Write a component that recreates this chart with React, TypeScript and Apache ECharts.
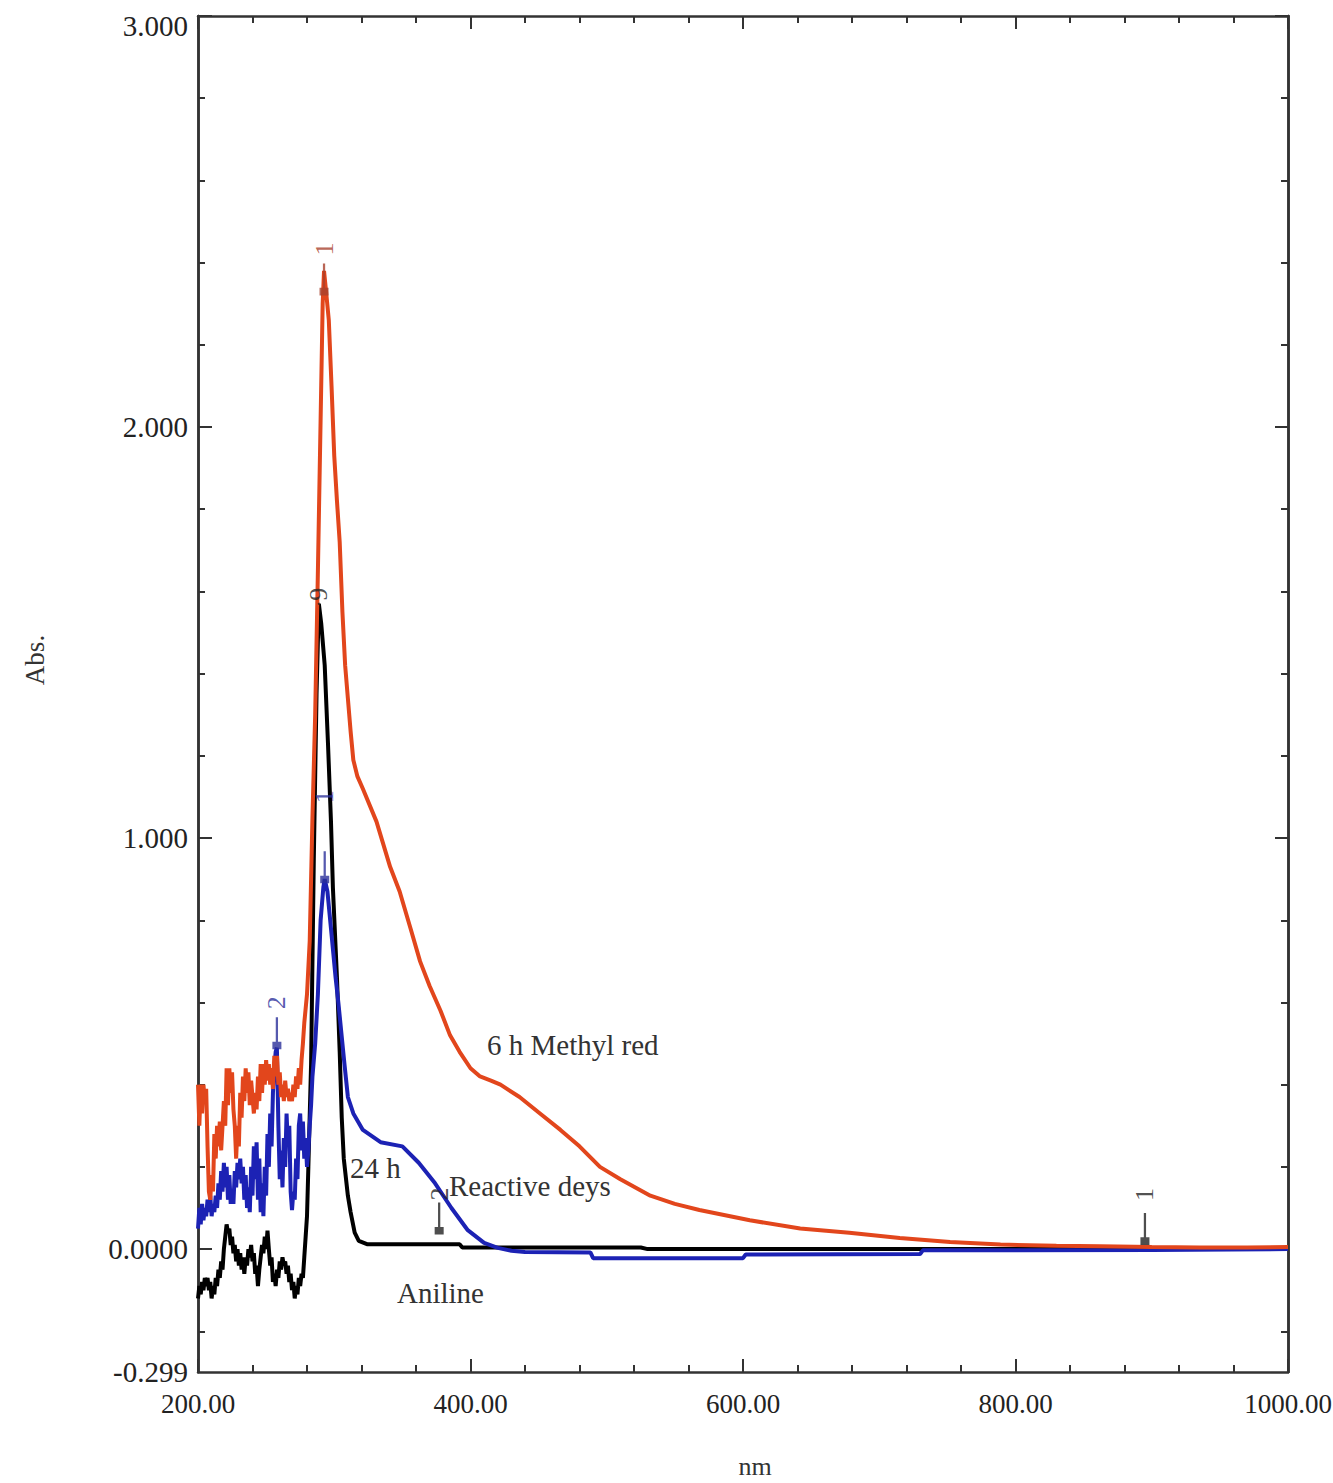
import React, { useEffect, useRef } from 'react';
import * as echarts from 'echarts';

// 6 h Methyl red (red curve): [wavelength nm, absorbance]
const methylRed: [number, number][] = [
  [200, 0.40], [201, 0.30], [202, 0.40], [203, 0.33], [204, 0.40], [205, 0.36], [206, 0.39],
  [207, 0.25], [208, 0.14], [209, 0.12], [210, 0.18], [211, 0.14], [212, 0.28], [213, 0.22],
  [214, 0.30], [215, 0.25], [216, 0.31], [217, 0.24], [218, 0.30], [219, 0.36], [220, 0.30],
  [221, 0.44], [222, 0.35], [223, 0.44], [224, 0.38], [225, 0.43], [226, 0.34], [227, 0.30],
  [228, 0.22], [229, 0.30], [230, 0.25], [231, 0.38], [232, 0.32], [233, 0.42], [234, 0.36],
  [235, 0.44], [236, 0.38], [237, 0.43], [238, 0.35], [239, 0.41], [240, 0.37], [241, 0.33],
  [242, 0.38], [243, 0.34], [244, 0.42], [245, 0.36], [246, 0.45], [247, 0.38], [248, 0.45],
  [249, 0.40], [250, 0.46], [251, 0.41], [252, 0.45], [253, 0.40], [254, 0.44], [255, 0.39],
  [256, 0.47], [257, 0.42], [258, 0.47], [259, 0.40], [260, 0.43], [261, 0.37], [262, 0.40],
  [263, 0.36], [264, 0.41], [265, 0.37], [266, 0.39], [267, 0.36], [268, 0.38], [269, 0.36],
  [270, 0.40], [271, 0.37], [272, 0.42], [273, 0.39], [274, 0.44], [275, 0.40], [276, 0.46],
  [277, 0.50], [278, 0.55], [280, 0.62], [282, 0.75], [284, 1.05], [286, 1.30], [288, 1.65],
  [290, 2.02], [291.5, 2.30], [292.5, 2.38], [294, 2.33], [296, 2.26], [298, 2.10], [300, 1.93],
  [302, 1.82], [304, 1.72], [306, 1.55], [308, 1.42], [310, 1.34], [312, 1.26], [314, 1.19],
  [317, 1.15], [321, 1.12], [331, 1.04], [341, 0.93], [348, 0.87], [356, 0.78], [363, 0.70],
  [370, 0.64], [378, 0.58], [385, 0.52], [392, 0.48], [400, 0.44], [407, 0.42], [415, 0.41],
  [422, 0.40], [436, 0.37], [451, 0.33], [466, 0.29], [480, 0.25], [495, 0.20], [510, 0.17],
  [532, 0.13], [550, 0.11], [568, 0.095], [605, 0.07], [642, 0.05], [678, 0.04], [715, 0.027],
  [752, 0.017], [789, 0.011], [830, 0.008], [862, 0.007], [900, 0.005], [935, 0.004],
  [970, 0.004], [1000, 0.005],
];

// 24 h Reactive deys (blue curve)
const reactiveDyes: [number, number][] = [
  [200, 0.05], [201, 0.10], [202, 0.06], [203, 0.11], [204, 0.07], [205, 0.10], [206, 0.08],
  [207, 0.12], [208, 0.09], [209, 0.13], [210, 0.08], [211, 0.11], [212, 0.09], [213, 0.13],
  [214, 0.10], [215, 0.16], [216, 0.12], [217, 0.19], [218, 0.14], [219, 0.21], [220, 0.15],
  [221, 0.20], [222, 0.12], [223, 0.18], [224, 0.11], [225, 0.14], [226, 0.11], [227, 0.19],
  [228, 0.15], [229, 0.21], [230, 0.17], [231, 0.22], [232, 0.16], [233, 0.20], [234, 0.12],
  [235, 0.18], [236, 0.10], [237, 0.15], [238, 0.09], [239, 0.20], [240, 0.13], [241, 0.25],
  [242, 0.17], [243, 0.26], [244, 0.12], [245, 0.22], [246, 0.09], [247, 0.16], [248, 0.08],
  [249, 0.20], [250, 0.13], [251, 0.28], [252, 0.20], [253, 0.33], [254, 0.25], [255, 0.38],
  [256, 0.44], [257, 0.48], [257.9, 0.49], [259, 0.30], [260, 0.17], [261, 0.24], [262, 0.15],
  [263, 0.27], [264, 0.20], [265, 0.33], [266, 0.25], [267, 0.30], [268, 0.14], [269, 0.095],
  [270, 0.14], [271, 0.12], [272, 0.22], [273, 0.17], [274, 0.30], [275, 0.33], [276, 0.24],
  [277, 0.31], [278, 0.22], [279, 0.27], [280, 0.20], [281, 0.24], [282, 0.30], [283, 0.35],
  [284, 0.42], [286, 0.50], [288, 0.62], [290, 0.80], [292, 0.88], [293, 0.90], [295, 0.87],
  [297.6, 0.78], [301, 0.66], [303, 0.60], [305.4, 0.52], [307.5, 0.45], [310, 0.37],
  [314, 0.33], [321, 0.29], [334, 0.26], [350, 0.25], [362, 0.21], [374, 0.16], [386, 0.10],
  [398, 0.046], [410, 0.015], [420, 0.003], [430, -0.004], [440, -0.007], [488, -0.008],
  [490, -0.022], [600, -0.022], [602, -0.013], [730, -0.012], [732, -0.003], [900, -0.002],
  [1000, 0.0],
];

// Aniline (black curve)
const aniline: [number, number][] = [
  [200, -0.12], [201, -0.09], [202, -0.11], [203, -0.08], [204, -0.10], [205, -0.07],
  [206, -0.09], [207, -0.07], [208, -0.10], [209, -0.08], [210, -0.12], [211, -0.09],
  [212, -0.11], [213, -0.07], [214, -0.09], [215, -0.05], [216, -0.07], [217, -0.03],
  [218, -0.05], [219, 0.0], [220, 0.03], [221, 0.06], [222, 0.04], [223, 0.05], [224, 0.01],
  [225, 0.03], [226, -0.01], [227, 0.01], [228, -0.03], [229, 0.0], [230, -0.04], [231, -0.01],
  [232, -0.05], [233, -0.02], [234, -0.06], [235, -0.02], [236, -0.04], [237, 0.0], [238, -0.02],
  [239, 0.01], [240, -0.03], [241, -0.01], [242, -0.06], [243, -0.04], [244, -0.09], [245, -0.05],
  [246, -0.02], [247, 0.01], [248, -0.01], [249, 0.03], [250, 0.0], [251, 0.045], [252, 0.0],
  [253, -0.04], [254, -0.02], [255, -0.08], [256, -0.06], [257, -0.09], [258, -0.05],
  [259, -0.07], [260, -0.03], [261, -0.05], [262, -0.02], [263, -0.04], [264, -0.03],
  [265, -0.06], [266, -0.04], [267, -0.08], [268, -0.06], [269, -0.10], [270, -0.08],
  [271, -0.12], [272, -0.09], [273, -0.11], [274, -0.07], [275, -0.09], [276, -0.06],
  [277, -0.07], [278, -0.02], [279, 0.03], [280, 0.08], [281, 0.20], [283, 0.45], [285, 0.95],
  [287, 1.35], [288.7, 1.57], [290.5, 1.52], [293, 1.42], [295.4, 1.23], [297.6, 1.04],
  [299, 0.88], [302, 0.66], [304, 0.48], [305.5, 0.32], [307, 0.22], [310, 0.13], [312, 0.09],
  [315, 0.04], [318, 0.02], [324, 0.012], [392, 0.012], [394, 0.004], [525, 0.004], [530, 0.0],
  [1000, 0.0],
];

// Peak-pick markers: label, wavelength, absorbance
const peakLabels = ['1', '2', '1', '9', '1', '2'];
const peakNm = [292.5, 257.9, 293, 288.7, 895, 377];
const peakAbs = [2.33, 0.496, 0.9, 1.57, 0.02, 0.045];
const peakColors = ['#a8402c', '#2b2f9a', '#2b2f9a', '#222222', '#222222', '#222222'];
const peakGaps = [8, 8, 48, 2, 12, 2];
const peakStem = [true, true, true, false, true, true];

const xTickValues = [200, 400, 600, 800, 1000];
const yLabelValues = [-0.299, 0, 1, 2, 3];
const yLabelTexts = ['-0.299', '0.0000', '1.000', '2.000', '3.000'];
const yMajorTicks = [0, 1, 2, 3];
const yMinorTicks = [-0.2, 0.2, 0.4, 0.6, 0.8, 1.2, 1.4, 1.6, 1.8, 2.2, 2.4, 2.6, 2.8];

const SERIF = '"Liberation Serif", "DejaVu Serif", serif';
const AXIS_COLOR = '#333';

export default function App() {
  const ref = useRef<HTMLDivElement>(null);

  useEffect(() => {
    document.body.style.margin = '0';
    if (!ref.current) return;
    const chart = echarts.init(ref.current, null, { renderer: 'svg' });

    const yBase = {
      type: 'value',
      min: -0.299,
      max: 3,
      splitLine: { show: false },
      axisLine: { show: true, lineStyle: { color: AXIS_COLOR, width: 2.5 } },
    };
    const xBase = {
      type: 'value',
      min: 200,
      max: 1000,
      interval: 200,
      splitLine: { show: false },
      axisLine: { show: true, onZero: false, lineStyle: { color: AXIS_COLOR, width: 2.5 } },
      axisTick: { show: true, inside: true, length: 13, lineStyle: { color: AXIS_COLOR, width: 2 } },
      minorTick: { show: true, splitNumber: 5, length: 7, lineStyle: { color: AXIS_COLOR, width: 2 } },
    };

    const stemSymbol = 'path://M4,0 L6,0 L6,26 L9,26 L9,34 L1,34 L1,26 L4,26 Z';

    const peakData = peakNm.map((nm, i) => ({
      value: [nm, peakAbs[i]],
      symbol: peakStem[i] ? stemSymbol : 'circle',
      symbolSize: peakStem[i] ? [9, 32] : 2,
      symbolOffset: peakStem[i] ? [0, -12] : [0, 0],
      itemStyle: { color: peakColors[i] },
      label: {
        show: true,
        formatter: peakLabels[i],
        position: 'top',
        distance: peakGaps[i],
        rotate: 90,
        align: 'left',
        verticalAlign: 'middle',
        color: peakColors[i],
        fontFamily: SERIF,
        fontSize: 26,
      },
    }));

    const lineSeries = (name: string, data: [number, number][], color: string, z: number) => ({
      name,
      type: 'line',
      data,
      showSymbol: false,
      symbol: 'none',
      lineStyle: { color, width: 4 },
      z,
    });

    chart.setOption({
      animation: false,
      backgroundColor: '#ffffff',
      grid: { left: 198, right: 45, top: 16, bottom: 111, containLabel: false, outerBoundsMode: 'none' },
      xAxis: [
        {
          ...xBase,
          position: 'bottom',
          axisLabel: {
            show: true,
            margin: 18,
            fontFamily: SERIF,
            fontSize: 27,
            color: '#222',
            customValues: xTickValues,
            formatter: (v: number) => v.toFixed(2),
          },
        },
        { ...xBase, position: 'top', axisLabel: { show: false } },
      ],
      yAxis: [
        {
          ...yBase,
          position: 'left',
          axisTick: { show: true, inside: true, length: 14, customValues: yMajorTicks, lineStyle: { color: AXIS_COLOR, width: 2 } },
          axisLabel: {
            show: true,
            margin: 10,
            fontFamily: SERIF,
            fontSize: 29,
            color: '#222',
            customValues: yLabelValues,
            formatter: (v: number) => {
              const i = yLabelValues.findIndex((u) => Math.abs(u - v) < 1e-6);
              if (i < 0) return '';
              return v === 3 ? '{top|' + yLabelTexts[i] + '}' : yLabelTexts[i];
            },
            rich: {
              top: { fontFamily: SERIF, fontSize: 29, color: '#222', padding: [20, 0, 0, 0] },
            },
          },
        },
        {
          ...yBase,
          position: 'left',
          axisTick: { show: true, inside: true, length: 7, customValues: yMinorTicks, lineStyle: { color: AXIS_COLOR, width: 2 } },
          axisLabel: { show: false },
        },
        {
          ...yBase,
          position: 'right',
          axisTick: { show: true, inside: true, length: 13, customValues: yMajorTicks, lineStyle: { color: AXIS_COLOR, width: 2 } },
          axisLabel: { show: false },
        },
        {
          ...yBase,
          position: 'right',
          axisTick: { show: true, inside: true, length: 7, customValues: yMinorTicks, lineStyle: { color: AXIS_COLOR, width: 2 } },
          axisLabel: { show: false },
        },
      ],
      series: [
        lineSeries('Aniline', aniline, '#000000', 2),
        lineSeries('24 h Reactive deys', reactiveDyes, '#1c22b4', 3),
        lineSeries('6 h Methyl red', methylRed, '#e2461c', 4),
        { name: 'peaks', type: 'scatter', data: peakData, z: 5 },
      ],
      graphic: [
        { type: 'text', x: 487, y: 1045, style: { text: '6 h Methyl red', fontFamily: SERIF, fontSize: 29, fill: '#333', verticalAlign: 'middle', align: 'left' } },
        { type: 'text', x: 350, y: 1168, style: { text: '24 h', fontFamily: SERIF, fontSize: 29, fill: '#333', verticalAlign: 'middle', align: 'left' } },
        { type: 'text', x: 449, y: 1186, style: { text: 'Reactive deys', fontFamily: SERIF, fontSize: 29, fill: '#333', verticalAlign: 'middle', align: 'left' } },
        { type: 'text', x: 397, y: 1293, style: { text: 'Aniline', fontFamily: SERIF, fontSize: 29, fill: '#333', verticalAlign: 'middle', align: 'left' } },
        { type: 'text', x: 755, y: 1466, style: { text: 'nm', fontFamily: SERIF, fontSize: 26, fill: '#333', verticalAlign: 'middle', align: 'center' } },
        { type: 'text', x: 35, y: 660, rotation: Math.PI / 2, style: { text: 'Abs.', fontFamily: SERIF, fontSize: 27, fill: '#333', verticalAlign: 'middle', align: 'center' } },
      ],
    });

    return () => chart.dispose();
  }, []);

  return <div ref={ref} style={{ width: 1333, height: 1483 }} />;
}
